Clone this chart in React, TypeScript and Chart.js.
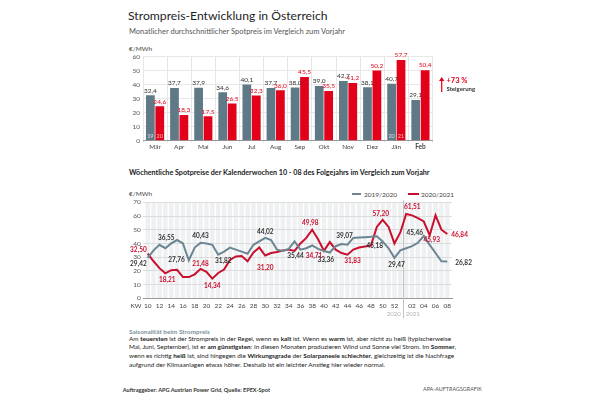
import React, { useEffect, useRef } from "react";
import { Chart, registerables } from "chart.js";

Chart.register(...registerables);

const FONT = "Lato, 'Open Sans', sans-serif";

// ---------- Monthly chart data ----------
const months = ["Mär", "Apr", "Mai", "Jun", "Jul", "Aug", "Sep", "Okt", "Nov", "Dez", "Jän", "Feb"];
const monthly2019_20 = [32.4, 37.7, 37.9, 34.6, 40.1, 37.7, 38.0, 39.0, 42.7, 38.1, 40.7, 29.1];
const monthly2020_21 = [24.6, 18.3, 17.5, 26.5, 32.3, 36.0, 45.5, 35.5, 41.2, 50.2, 57.7, 50.4];
const monthlyYTicks = [0, 10, 20, 30, 40, 50, 60];
const boldMonth = "Feb";
const yearTagMonths = ["Mär", "Jän"];
const yearTags2019_20 = ["19", "20"];
const yearTags2020_21 = ["20", "21"];

// ---------- Weekly chart data ----------
const weeks = [
  "10", "11", "12", "13", "14", "15", "16", "17", "18", "19", "20", "21", "22", "23", "24", "25",
  "26", "27", "28", "29", "30", "31", "32", "33", "34", "35", "36", "37", "38", "39", "40", "41",
  "42", "43", "44", "45", "46", "47", "48", "49", "50", "51", "52", "53", "01", "02", "03", "04",
  "05", "06", "07", "08",
];
const weekly2019_20 = [
  29.42, 35, 39, 36.55, 40, 42.5, 40, 27.76, 37, 40.43, 40, 39, 31.82, 34, 37, 35.5,
  34, 32.5, 39, 41.5, 44.02, 42.5, 35.5, 34.5, 36, 41.5, 35.44, 36.5, 38.5, 36, 34.5, 33.36,
  38, 39.5, 39.07, 44, 44.4, 44.6, 44.8, 45.18, 41.5, 36.5, 29.47, 35, 36.5, 38, 40.5, 45.46,
  39, 33, 27, 26.82,
];
const weekly2020_21 = [
  32.5, 27, 22, 18.21, 20.5, 20.8, 15.5, 15.5, 17.5, 21.48, 19.3, 14.34, 18.5, 21, 28, 30.5,
  30.8, 27, 33.5, 37, 31.2, 33, 33.8, 34.8, 35.5, 34.5, 40, 44, 49.98, 43, 34.71, 41,
  35.5, 33, 31.83, 35.5, 37, 37.8, 38.5, 52, 57.2, 52, 40, 48, 61.51, 60.5, 58.5, 56,
  45.93, 60.5, 50, 46.84,
];
const weeklyYTicks = [0, 10, 20, 30, 40, 50, 60, 70];
const seriesNames = ["2019/2020", "2020/2021"];
const yearSplit = ["2020", "2021"];

// label placement (style only): week index, offset from the point, anchor
type Note = { i: number; dx: number; dy: number; align: CanvasTextAlign };
const grayNotes: Note[] = [
  { i: 0, dx: -1, dy: 5.5, align: "right" },
  { i: 3, dx: 1, dy: -10, align: "center" },
  { i: 7, dx: -4, dy: 0, align: "right" },
  { i: 9, dx: 0, dy: -7, align: "center" },
  { i: 12, dx: 5, dy: 6, align: "center" },
  { i: 20, dx: 0, dy: -6, align: "center" },
  { i: 26, dx: -5, dy: 6, align: "center" },
  { i: 31, dx: -4, dy: 7, align: "center" },
  { i: 34, dx: -3, dy: -9, align: "center" },
  { i: 39, dx: -2, dy: 10, align: "center" },
  { i: 42, dx: 2, dy: 7, align: "center" },
  { i: 47, dx: -9, dy: -3, align: "center" },
  { i: 51, dx: 8, dy: 1, align: "left" },
];
const redNotes: Note[] = [
  { i: 0, dx: -1, dy: -4, align: "right" },
  { i: 3, dx: 2, dy: 7, align: "center" },
  { i: 9, dx: 0, dy: -5, align: "center" },
  { i: 11, dx: 0, dy: 7, align: "center" },
  { i: 20, dx: 0, dy: 12, align: "center" },
  { i: 28, dx: -2, dy: -7, align: "center" },
  { i: 30, dx: -10, dy: 5, align: "center" },
  { i: 34, dx: 5, dy: 6, align: "center" },
  { i: 40, dx: -2, dy: -6, align: "center" },
  { i: 44, dx: 6, dy: -7, align: "center" },
  { i: 48, dx: 2, dy: 5, align: "center" },
  { i: 51, dx: 4, dy: 1, align: "left" },
];

const GRAY_BAR = "#5f7986";
const RED_BAR = "#e2001a";
const GRAY_LINE = "#6b8692";
const RED_LINE = "#c8102e";

const fmt = (v: number, d: number) => v.toFixed(d).replace(".", ",");

const barLabelPlugin = {
  id: "barLabels",
  afterDatasetsDraw(chart: any) {
    const ctx = chart.ctx;
    const a = chart.chartArea;
    const xs = chart.scales.x;
    ctx.save();
    // month labels
    ctx.textAlign = "center";
    ctx.textBaseline = "middle";
    ctx.fillStyle = "#444";
    months.forEach((m, i) => {
      ctx.font = `${m === boldMonth ? "bold " : ""}6.5px ${FONT}`;
      ctx.fillText(m, xs.getPixelForValue(i), a.bottom + 6.2);
    });
    // value labels
    ctx.font = `6.5px ${FONT}`;
    ctx.textBaseline = "bottom";
    chart.data.datasets.forEach((ds: any, di: number) => {
      const meta = chart.getDatasetMeta(di);
      meta.data.forEach((bar: any, i: number) => {
        ctx.fillStyle = di === 0 ? "#333" : RED_BAR;
        ctx.fillText(fmt(ds.data[i], 1), bar.x, bar.y - 1.5);
      });
    });
    // year tags inside bars
    ctx.font = `5.5px ${FONT}`;
    ctx.fillStyle = "rgba(255,255,255,0.75)";
    yearTagMonths.forEach((m, k) => {
      const i = months.indexOf(m);
      const b0 = chart.getDatasetMeta(0).data[i];
      const b1 = chart.getDatasetMeta(1).data[i];
      ctx.fillText(yearTags2019_20[k], b0.x, b0.base - 1);
      ctx.fillText(yearTags2020_21[k], b1.x, b1.base - 1);
    });
    ctx.restore();
  },
};

const weeklyPlugin = {
  id: "weeklyDecor",
  beforeDraw(chart: any) {
    const { ctx, chartArea: a } = chart;
    const x = chart.scales.x;
    const unit = x.getPixelForValue(1) - x.getPixelForValue(0);
    ctx.save();
    ctx.fillStyle = "#eef0f2";
    weeks.forEach((_, i) => {
      const cx = x.getPixelForValue(i);
      ctx.fillRect(cx - unit / 2 + 0.7, a.top, unit - 1.4, a.bottom - a.top);
    });
    ctx.restore();
  },
  beforeDatasetsDraw(chart: any) {
    const { ctx, chartArea: a } = chart;
    const x = chart.scales.x;
    const splitIdx = weeks.indexOf("01");
    const xd = (x.getPixelForValue(splitIdx - 1) + x.getPixelForValue(splitIdx)) / 2;
    ctx.save();
    ctx.strokeStyle = "#c4c4c4";
    ctx.lineWidth = 1;
    ctx.beginPath();
    ctx.moveTo(Math.round(xd) + 0.5, a.top - 2);
    ctx.lineTo(Math.round(xd) + 0.5, a.bottom + 20);
    ctx.stroke();
    ctx.font = `6px ${FONT}`;
    ctx.fillStyle = "#b0b0b0";
    ctx.textBaseline = "middle";
    ctx.textAlign = "right";
    ctx.fillText(yearSplit[0], xd - 2.5, a.bottom + 16);
    ctx.textAlign = "left";
    ctx.fillText(yearSplit[1], xd + 2.5, a.bottom + 16);
    ctx.font = `6.5px ${FONT}`;
    ctx.fillStyle = "#444";
    ctx.textAlign = "right";
    ctx.fillText("KW", a.left - 1.5, a.bottom + 7.4);
    ctx.restore();
  },
  afterDatasetsDraw(chart: any) {
    const { ctx } = chart;
    const x = chart.scales.x;
    const y = chart.scales.y;
    ctx.save();
    ctx.font = `bold 6.5px ${FONT}`;
    ctx.textBaseline = "middle";
    const draw = (notes: Note[], vals: number[], color: string) => {
      ctx.fillStyle = color;
      notes.forEach((n) => {
        ctx.textAlign = n.align;
        ctx.fillText(fmt(vals[n.i], 2), x.getPixelForValue(n.i) + n.dx, y.getPixelForValue(vals[n.i]) + n.dy);
      });
    };
    draw(grayNotes, weekly2019_20, "#333");
    draw(redNotes, weekly2020_21, RED_LINE);
    ctx.restore();
  },
};

const abs = (left: number, top: number, extra: React.CSSProperties = {}): React.CSSProperties => ({
  position: "absolute",
  left,
  top,
  whiteSpace: "nowrap",
  ...extra,
});

export default function App() {
  const topRef = useRef<HTMLCanvasElement>(null);
  const botRef = useRef<HTMLCanvasElement>(null);

  useEffect(() => {
    const c1 = new Chart(topRef.current as HTMLCanvasElement, {
      type: "bar",
      data: {
        labels: months,
        datasets: [
          { label: seriesNames[0], data: monthly2019_20, backgroundColor: GRAY_BAR, categoryPercentage: 0.78, barPercentage: 0.93 },
          { label: seriesNames[1], data: monthly2020_21, backgroundColor: RED_BAR, categoryPercentage: 0.78, barPercentage: 0.93 },
        ],
      },
      options: {
        responsive: false,
        animation: false,
        devicePixelRatio: 1,
        layout: { padding: { left: 0, right: 17.5, top: 16.7, bottom: 0 } },
        plugins: { legend: { display: false }, tooltip: { enabled: false } },
        scales: {
          x: {
            grid: { color: "#e6e6e6", tickLength: 2, offset: true, drawTicks: true },
            border: { color: "#9a9a9a" },
            ticks: { display: false },
            afterFit: (s: any) => {
              s.height = 11.3;
            },
          },
          y: {
            min: monthlyYTicks[0],
            max: monthlyYTicks[monthlyYTicks.length - 1],
            ticks: { stepSize: 10, padding: 3, color: "#555", font: { family: FONT, size: 6.5 } },
            grid: { color: "#e8e8e8", drawTicks: false },
            border: { display: false },
            afterFit: (s: any) => {
              s.width = 33;
            },
          },
        },
      } as any,
      plugins: [barLabelPlugin],
    });

    const c2 = new Chart(botRef.current as HTMLCanvasElement, {
      type: "line",
      data: {
        datasets: [
          {
            label: seriesNames[0],
            data: weekly2019_20.map((v, i) => ({ x: i, y: v })),
            borderColor: GRAY_LINE,
            borderWidth: 2,
            pointRadius: 0,
            tension: 0,
          },
          {
            label: seriesNames[1],
            data: weekly2020_21.map((v, i) => ({ x: i, y: v })),
            borderColor: RED_LINE,
            borderWidth: 2,
            pointRadius: 0,
            tension: 0,
          },
        ],
      },
      options: {
        responsive: false,
        animation: false,
        devicePixelRatio: 1,
        layout: { padding: { left: 0, right: 28, top: 22.3, bottom: 0 } },
        plugins: { legend: { display: false }, tooltip: { enabled: false } },
        scales: {
          x: {
            type: "linear",
            min: -0.8,
            max: weeks.length - 0.2,
            grid: { display: false, drawTicks: false },
            border: { color: "#9a9a9a" },
            afterBuildTicks: (s: any) => {
              s.ticks = weeks
                .map((w, i) => ({ value: i, w }))
                .filter((t) => parseInt(t.w, 10) % 2 === 0)
                .map((t) => ({ value: t.value }));
            },
            ticks: {
              autoSkip: false,
              maxRotation: 0,
              padding: 3.5,
              color: "#444",
              font: { family: FONT, size: 6.5 },
              callback: (v: any) => weeks[v],
            },
            afterFit: (s: any) => {
              s.height = 21.7;
            },
          },
          y: {
            min: weeklyYTicks[0],
            max: weeklyYTicks[weeklyYTicks.length - 1],
            ticks: { stepSize: 10, padding: 2.3, color: "#555", font: { family: FONT, size: 6.5 } },
            grid: { color: "#dcdcdc", drawTicks: false },
            border: { display: false },
            afterFit: (s: any) => {
              s.width = 33;
            },
          },
        },
      } as any,
      plugins: [weeklyPlugin],
    });

    return () => {
      c1.destroy();
      c2.destroy();
    };
  }, []);

  const txt = "#222";
  const B = (s: string) => <b style={{ fontWeight: 700 }}>{s}</b>;

  return (
    <div
      style={{
        position: "fixed",
        left: 0,
        top: 0,
        width: 600,
        height: 400,
        background: "#fff",
        overflow: "hidden",
        fontFamily: FONT,
        color: txt,
      }}
    >
      <div style={abs(128, 8, { fontSize: 12.2, lineHeight: "16px", color: "#1e1e1e" })}>
        Strompreis-Entwicklung in Österreich
      </div>
      <div style={abs(129, 27, { fontSize: 7.5, lineHeight: "10px", color: "#555" })}>
        Monatlicher durchschnittlicher Spotpreis im Vergleich zum Vorjahr
      </div>
      <div style={abs(129, 44, { fontSize: 6.5, lineHeight: "9px", color: "#444" })}>€/MWh</div>

      <canvas ref={topRef} width={340} height={112} style={abs(110, 40, { width: 340, height: 112 })} />

      <svg style={abs(438, 76)} width={8} height={18}>
        <line x1={3.7} y1={4} x2={3.7} y2={16} stroke={RED_BAR} strokeWidth={1.2} />
        <polygon points="1,5 6.4,5 3.7,1" fill={RED_BAR} />
      </svg>
      <div style={abs(446.5, 76, { fontSize: 7.5, lineHeight: "10px", color: RED_BAR, fontWeight: 700 })}>+73 %</div>
      <div style={abs(446.5, 85, { fontSize: 6, lineHeight: "8px", color: "#333", fontWeight: 700 })}>Steigerung</div>

      <div style={abs(129, 168, { fontSize: 7.2, lineHeight: "9px", color: "#222", fontWeight: 700 })}>
        Wöchentliche Spotpreise der Kalenderwochen 10 - 08 des Folgejahrs im Vergleich zum Vorjahr
      </div>
      <div style={abs(129, 188.5, { fontSize: 6.5, lineHeight: "9px", color: "#444" })}>€/MWh</div>

      <div style={abs(351.7, 193.3, { width: 9, height: 2, background: GRAY_LINE })} />
      <div style={abs(364, 190, { fontSize: 6.5, lineHeight: "9px", color: "#444" })}>{seriesNames[0]}</div>
      <div style={abs(408, 193.3, { width: 11, height: 2, background: RED_LINE })} />
      <div style={abs(421, 190, { fontSize: 6.5, lineHeight: "9px", color: "#444" })}>{seriesNames[1]}</div>

      <canvas ref={botRef} width={370} height={140} style={abs(110, 180, { width: 370, height: 140 })} />

      <div style={abs(129, 326.5, { fontSize: 6.4, lineHeight: "9px", color: "#7d939d", fontWeight: 700 })}>
        Saisonalität beim Strompreis
      </div>
      <div style={abs(129, 334.5, { fontSize: 6.4, lineHeight: "8.8px", color: txt })}>
        <div>
          Am {B("teuersten")} ist der Strompreis in der Regel, wenn es {B("kalt")} ist. Wenn es {B("warm")} ist, aber nicht zu heiß (typischerweise
        </div>
        <div>
          Mai, Juni, September), ist er {B("am günstigsten")}: In diesen Monaten produzieren Wind und Sonne viel Strom. Im {B("Sommer")},
        </div>
        <div>
          wenn es richtig {B("heiß")} ist, sind hingegen die {B("Wirkungsgrade")} der {B("Solarpaneele schlechter")}, gleichzeitig ist die Nachfrage
        </div>
        <div>aufgrund der Klimaanlagen etwas höher. Deshalb ist ein leichter Anstieg hier wieder normal.</div>
      </div>

      <div style={abs(122.7, 385.5, { fontSize: 5.6, lineHeight: "7px", color: "#333", fontWeight: 700 })}>
        Auftraggeber: APG Austrian Power Grid, Quelle: EPEX-Spot
      </div>
      <div style={abs(423, 385.5, { fontSize: 5.4, lineHeight: "7px", color: "#555" })}>APA-AUFTRAGSGRAFIK</div>
    </div>
  );
}
